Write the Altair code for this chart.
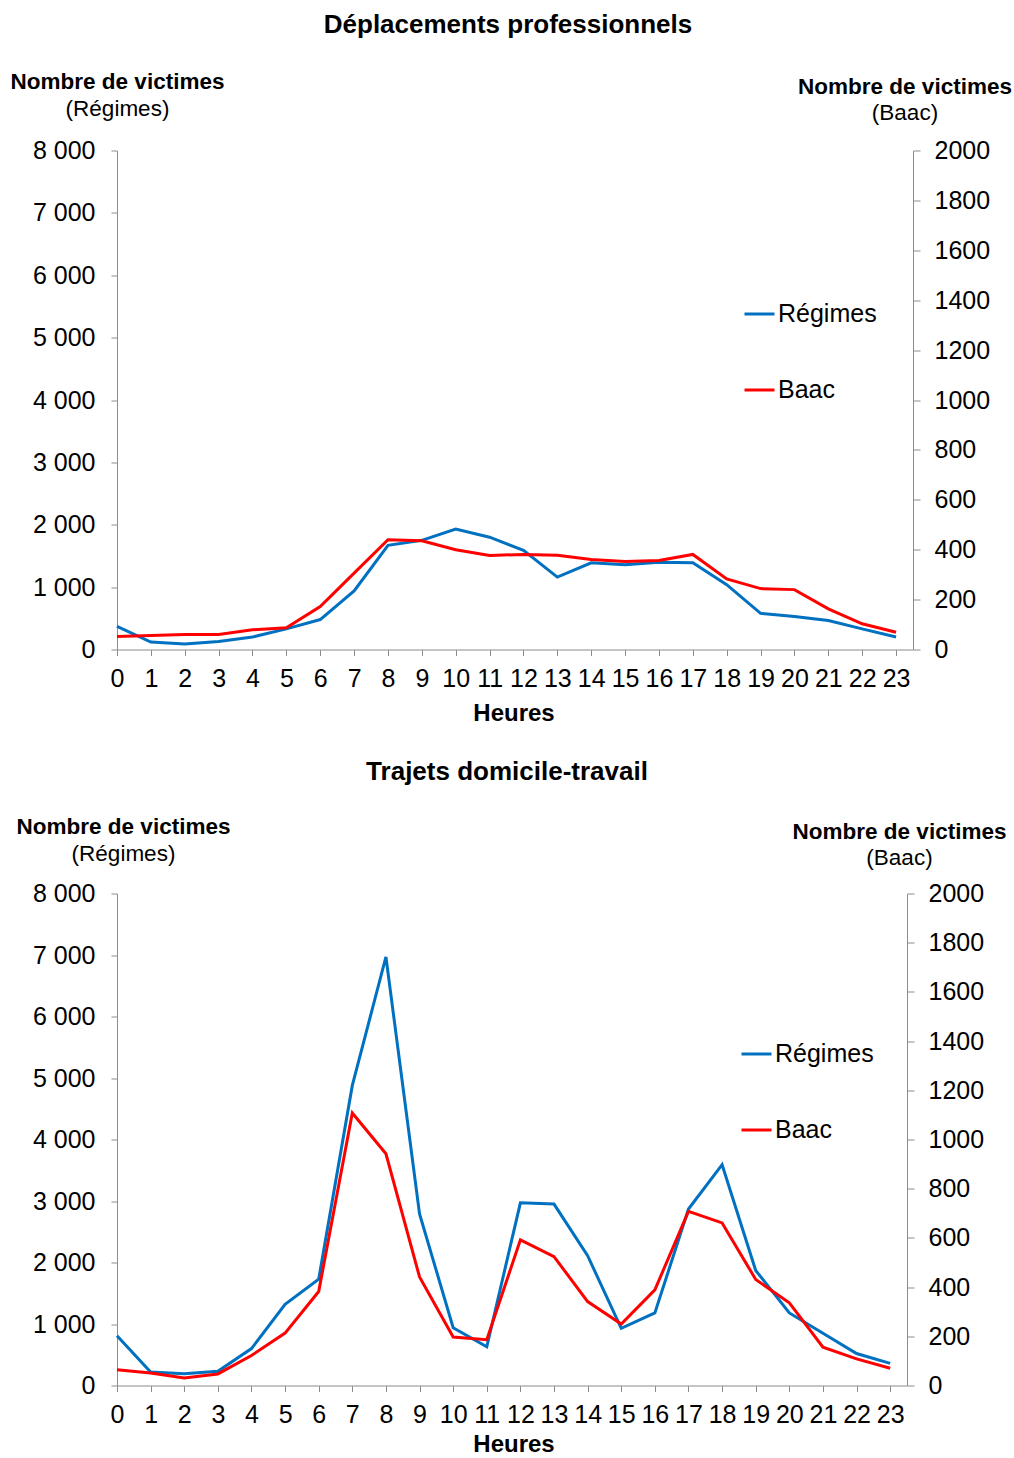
import altair as alt
import pandas as pd

# Heures de la journée (0 à 23)
HEURES = list(range(24))
SERIES = ["Régimes", "Baac"]
COULEURS = ["#0070C0", "#FF0000"]

# Déplacements professionnels
DEPL_REGIMES = [370, 120, 90, 130, 200, 330, 480, 940, 1670, 1750, 1930, 1800,
                1590, 1160, 1390, 1360, 1400, 1390, 1040, 580, 530, 465, 330, 200]
DEPL_BAAC = [52, 56, 60, 60, 79, 87, 172, 306, 440, 436, 400, 377,
             381, 378, 361, 353, 357, 381, 283, 244, 240, 163, 103, 69]

# Trajets domicile-travail
TRAJ_REGIMES = [810, 220, 190, 230, 600, 1320, 1730, 4880, 6970, 2790, 940, 630,
                2970, 2950, 2110, 930, 1180, 2870, 3590, 1870, 1180, 850, 520, 360]
TRAJ_BAAC = [64, 51, 31, 47, 122, 213, 382, 1108, 942, 441, 197, 186,
             592, 524, 341, 250, 389, 708, 661, 431, 336, 156, 108, 70]

FONT = "Liberation Sans"
GRIS = "#8c8c8c"


def texte(s, x, y, size, bold=False):
    return alt.Chart(pd.DataFrame({"t": [s]})).mark_text(
        font=FONT, fontSize=size, fontWeight="bold" if bold else "normal",
        align="center", baseline="middle", color="black",
    ).encode(x=alt.value(x), y=alt.value(y), text="t:N")


def panneau(titre, regimes, baac, width, height, pos):
    df = pd.DataFrame({
        "heure": HEURES * 2,
        "valeur": regimes + baac,
        "serie": [SERIES[0]] * 24 + [SERIES[1]] * 24,
    })
    couleur = alt.Color(
        "serie:N",
        scale=alt.Scale(domain=SERIES, range=COULEURS),
        legend=alt.Legend(
            title=None, orient="none", legendX=pos["legX"], legendY=pos["legY"],
            symbolType="stroke", symbolSize=900, symbolStrokeWidth=3,
            labelFont=FONT, labelFontSize=25, labelColor="black",
            labelOffset=2, rowPadding=46, padding=0,
        ),
    )
    x = alt.X(
        "heure:Q",
        scale=alt.Scale(domain=[0, 23.5], nice=False, zero=False),
        axis=alt.Axis(values=HEURES, title=None, tickSize=6, labelPadding=11,
                      labelOverlap=False, labelFlush=False, format="d"),
    )
    gauche = alt.Chart(df).transform_filter(alt.datum.serie == SERIES[0]).mark_line(
        strokeWidth=3
    ).encode(
        x=x,
        y=alt.Y("valeur:Q",
                scale=alt.Scale(domain=[0, 8000], nice=False),
                axis=alt.Axis(orient="left", title=None,
                              values=list(range(0, 8001, 1000)),
                              labelExpr="replace(format(datum.value, ',d'), ',', ' ')",
                              tickSize=6, labelPadding=16, labelFlush=False,
                              labelOverlap=False)),
        color=couleur,
    )
    droite = alt.Chart(df).transform_filter(alt.datum.serie == SERIES[1]).mark_line(
        strokeWidth=3
    ).encode(
        x=x,
        y=alt.Y("valeur:Q",
                scale=alt.Scale(domain=[0, 2000], nice=False),
                axis=alt.Axis(orient="right", title=None,
                              values=list(range(0, 2001, 200)), format="d",
                              tickSize=7, labelPadding=14, labelFlush=False,
                              labelOverlap=False)),
        color=couleur,
    )
    textes = [
        texte(titre, pos["titreX"], pos["titreY"], 26, bold=True),
        texte("Nombre de victimes", pos["gX"], pos["gY"], 22.5, bold=True),
        texte("(Régimes)", pos["gX"], pos["gY"] + 27, 22.5),
        texte("Nombre de victimes", pos["dX"], pos["dY"], 22.5, bold=True),
        texte("(Baac)", pos["dX"], pos["dY"] + 26, 22.5),
        texte("Heures", pos["hX"], pos["hY"], 24, bold=True),
    ]
    return alt.layer(gauche, droite, *textes).resolve_scale(
        y="independent"
    ).properties(width=width, height=height)


haut = panneau(
    "Déplacements professionnels", DEPL_REGIMES, DEPL_BAAC, 796, 499,
    dict(titreX=391, titreY=-126, gX=0.5, gY=-69, dX=788, dY=-64,
         hX=397, hY=563, legX=626, legY=147),
)
bas = panneau(
    "Trajets domicile-travail", TRAJ_REGIMES, TRAJ_BAAC, 790, 492,
    dict(titreX=390, titreY=-122, gX=6.5, gY=-67, dX=782.5, dY=-62,
         hX=397, hY=551, legX=623, legY=144),
)

chart = alt.vconcat(haut, bas, spacing=33).resolve_scale(
    x="independent", y="independent", color="independent"
).properties(
    padding={"left": 10, "top": 11.5, "right": 0, "bottom": 0},
    background="white",
).configure_view(
    stroke=None
).configure_axis(
    grid=False,
    labelFont=FONT, labelFontSize=25, labelColor="black",
    domainColor=GRIS, tickColor=GRIS, domainWidth=1, tickWidth=1,
)

chart.save("out.html", embed_options={"renderer": "svg", "actions": False})
